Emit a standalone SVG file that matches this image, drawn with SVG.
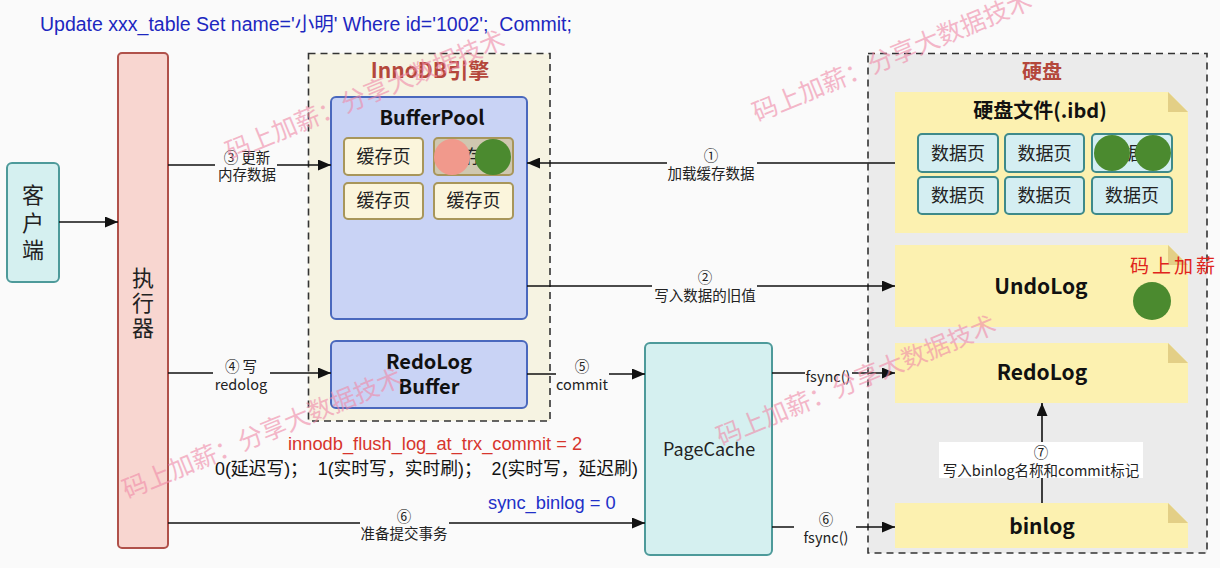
<svg xmlns="http://www.w3.org/2000/svg" width="1220" height="568" viewBox="0 0 1220 568">
<defs>
<style>
.t{font-family:"Noto Sans CJK SC","Noto Sans",sans-serif;}
.a{font-family:"Liberation Sans","Noto Sans CJK SC",sans-serif;white-space:pre;}
.lbl{font-family:"Noto Sans CJK SC","Noto Sans",sans-serif;font-size:14.5px;fill:#222;text-anchor:middle;}
.ln{stroke:#111;stroke-width:1.6;fill:none;}
.bg{fill:#fafafa;}
.cache{fill:#fbf5dc;stroke:#a8965a;stroke-width:2;}
.dp{fill:#d4eef2;stroke:#3e8a8a;stroke-width:2;}
.note{fill:#fcf1b0;}
.fold{fill:#e3cf86;}
.blue{fill:#c9d3f5;stroke:#4a68bd;stroke-width:2;}
.cyan{fill:#d5f0f0;stroke:#4d9a9a;stroke-width:2;}
.dash{stroke:#333;stroke-width:1.6;stroke-dasharray:7 5;}
.h{font-family:"Noto Sans CJK SC","Noto Sans",sans-serif;font-weight:bold;text-anchor:middle;fill:#111;}
.c{text-anchor:middle;}
.green{fill:#4b8a2f;}
.wm{font-family:"Noto Sans CJK SC",sans-serif;font-size:25px;fill:#f08aa8;opacity:.6;}
</style>
<marker id="ar" markerUnits="userSpaceOnUse" markerWidth="14" markerHeight="11" refX="13" refY="5.5" orient="auto"><path d="M0,0 L13,5.5 L0,11 z" fill="#111"/></marker>
</defs>
<rect x="0" y="0" width="1220" height="568" fill="#fafafa"/>
<text class="a" x="40" y="31" font-size="19.5" fill="#1d27c0" xml:space="preserve">Update xxx_table Set name='小明' Where id='1002';  Commit;</text>

<g id="client">
<rect class="cyan" x="7" y="163" width="52" height="119" rx="5"/>
<text class="t c" x="33" y="203" font-size="22" fill="#222">客</text>
<text class="t c" x="33" y="231" font-size="22" fill="#222">户</text>
<text class="t c" x="33" y="258" font-size="22" fill="#222">端</text>
</g>

<g id="executor">
<rect x="118" y="53" width="50" height="495" rx="4" fill="#f8d6d0" stroke="#b0514a" stroke-width="2"/>
<text class="t c" x="143" y="286" font-size="22" fill="#222">执</text>
<text class="t c" x="143" y="311" font-size="22" fill="#222">行</text>
<text class="t c" x="143" y="336" font-size="22" fill="#222">器</text>
</g>

<g id="innodb">
<rect class="dash" x="308.5" y="53.5" width="241.5" height="367.5" fill="#f6f3e2"/>
<text class="h" x="430" y="78" font-size="21" style="fill:#b4473b">InnoDB引擎</text>
</g>

<g id="bufferpool">
<rect class="blue" x="331" y="97" width="196" height="222" rx="5"/>
<text class="h" x="432" y="125" font-size="20">BufferPool</text>
<rect class="cache" x="344" y="138" width="79" height="37" rx="4"/>
<text class="t c" x="383.5" y="163" font-size="18" fill="#222">缓存页</text>
<rect class="cache" x="434" y="138" width="79" height="37" rx="4" style="fill:#cfc7b0"/>
<text class="t c" x="473.5" y="163" font-size="18" fill="#222">缓存页</text>
<circle cx="452" cy="157" r="18" fill="#f1998c"/>
<circle class="green" cx="493" cy="157" r="18"/>
<rect class="cache" x="344" y="183" width="79" height="36" rx="4"/>
<text class="t c" x="383.5" y="207" font-size="18" fill="#222">缓存页</text>
<rect class="cache" x="434" y="183" width="79" height="36" rx="4"/>
<text class="t c" x="473.5" y="207" font-size="18" fill="#222">缓存页</text>
</g>

<g id="redologbuffer">
<rect class="blue" x="331" y="341" width="196" height="67" rx="5"/>
<text class="h" x="429" y="369" font-size="20">RedoLog</text>
<text class="h" x="429" y="394" font-size="20">Buffer</text>
</g>

<g id="pagecache">
<rect class="cyan" x="645" y="343" width="127" height="212" rx="5"/>
<text class="t c" x="709" y="456" font-size="18" fill="#222">PageCache</text>
</g>

<g id="disk">
<rect class="dash" x="868" y="53.5" width="339" height="499.5" fill="#ebebeb"/>
<text class="h" x="1042" y="79" font-size="20" style="fill:#b4473b">硬盘</text>
</g>

<g id="ibd">
<path class="note" d="M895,92 H1168 L1188,112 V233 H895 Z"/>
<path class="fold" d="M1168,92 V112 H1188 Z"/>
<text class="h" x="1040" y="118" font-size="20">硬盘文件(.ibd)</text>
<rect class="dp" x="918" y="134" width="80" height="38" rx="4"/>
<rect class="dp" x="1005" y="134" width="79" height="38" rx="4"/>
<rect class="dp" x="1092" y="134" width="80" height="38" rx="4"/>
<rect class="dp" x="918" y="177" width="80" height="37" rx="4"/>
<rect class="dp" x="1005" y="177" width="79" height="37" rx="4"/>
<rect class="dp" x="1092" y="177" width="80" height="37" rx="4"/>
<text class="t c" x="958" y="159.5" font-size="18" fill="#222">数据页</text>
<text class="t c" x="1044.5" y="159.5" font-size="18" fill="#222">数据页</text>
<text class="t c" x="1132" y="159.5" font-size="18" fill="#222">数据页</text>
<text class="t c" x="958" y="202" font-size="18" fill="#222">数据页</text>
<text class="t c" x="1044.5" y="202" font-size="18" fill="#222">数据页</text>
<text class="t c" x="1132" y="202" font-size="18" fill="#222">数据页</text>
<circle class="green" cx="1112" cy="153" r="18"/>
<circle class="green" cx="1153" cy="153" r="18"/>
</g>

<g id="undolog">
<path class="note" d="M895,245 H1168 L1188,265 V327 H895 Z"/>
<path class="fold" d="M1168,245 V265 H1188 Z"/>
<text class="h" x="1041" y="294" font-size="21">UndoLog</text>
<circle class="green" cx="1152" cy="301" r="19"/>
<text class="t" x="1130" y="273" font-size="19" fill="#e0241c" letter-spacing="3">码上加薪</text>
</g>

<g id="redolog">
<path class="note" d="M895,343 H1168 L1188,363 V403 H895 Z"/>
<path class="fold" d="M1168,343 V363 H1188 Z"/>
<text class="h" x="1042" y="380" font-size="21">RedoLog</text>
</g>

<g id="binlog">
<path class="note" d="M895,503 H1168 L1188,523 V548 H895 Z"/>
<path class="fold" d="M1168,503 V523 H1188 Z"/>
<text class="h" x="1042" y="534" font-size="21">binlog</text>
</g>

<g id="connectors">
<line class="ln" x1="59" y1="222" x2="118" y2="222" marker-end="url(#ar)"/>
<line class="ln" x1="168" y1="165" x2="331" y2="165" marker-end="url(#ar)"/>
<rect class="bg" x="215" y="149" width="62" height="35"/>
<text class="lbl" x="247" y="163">③ 更新</text>
<text class="lbl" x="247" y="180">内存数据</text>

<line class="ln" x1="895" y1="163" x2="527" y2="163" marker-end="url(#ar)"/>
<rect class="bg" x="667" y="147" width="90" height="35"/>
<text class="lbl" x="711" y="161">①</text>
<text class="lbl" x="711" y="179">加载缓存数据</text>

<line class="ln" x1="527" y1="286" x2="895" y2="286" marker-end="url(#ar)"/>
<rect class="bg" x="652" y="270" width="105" height="35"/>
<text class="lbl" x="705" y="283">②</text>
<text class="lbl" x="705" y="301">写入数据的旧值</text>

<line class="ln" x1="168" y1="373" x2="331" y2="373" marker-end="url(#ar)"/>
<rect class="bg" x="213" y="358" width="57" height="35"/>
<text class="lbl" x="241" y="372">④ 写</text>
<text class="lbl" x="241" y="390">redolog</text>

<line class="ln" x1="527" y1="374" x2="645" y2="374" marker-end="url(#ar)"/>
<rect class="bg" x="556" y="359" width="53" height="33"/>
<text class="lbl" x="582" y="372">⑤</text>
<text class="lbl" x="582" y="390">commit</text>

<line class="ln" x1="772" y1="373" x2="895" y2="373" marker-end="url(#ar)"/>
<rect class="bg" x="805" y="366" width="47" height="16"/>
<text class="lbl" x="828" y="382">fsync()</text>

<line class="ln" x1="168" y1="523" x2="645" y2="523" marker-end="url(#ar)"/>
<rect class="bg" x="360" y="508" width="89" height="34"/>
<text class="lbl" x="404" y="522">⑥</text>
<text class="lbl" x="404" y="539">准备提交事务</text>

<line class="ln" x1="772" y1="527" x2="895" y2="527" marker-end="url(#ar)"/>
<rect class="bg" x="794" y="512" width="62" height="34"/>
<text class="lbl" x="826" y="525">⑥</text>
<text class="lbl" x="826" y="543">fsync()</text>

<line class="ln" x1="1042" y1="503" x2="1042" y2="403" marker-end="url(#ar)"/>
<rect x="939" y="442" width="204" height="36" fill="#ffffff"/>
<text class="lbl" x="1041" y="458">⑦</text>
<text class="lbl" x="1041" y="476">写入binlog名称和commit标记</text>
</g>

<text class="a" x="288" y="450" font-size="18.3" fill="#d7352d">innodb_flush_log_at_trx_commit = 2</text>
<text class="a" x="215" y="475" font-size="17.8" fill="#111" xml:space="preserve">0(延迟写)；  1(实时写，实时刷)；  2(实时写，延迟刷)</text>
<text class="a" x="488" y="509" font-size="18.3" fill="#2130c8">sync_binlog = 0</text>

<text class="wm" x="230" y="161" transform="rotate(-22.5 230 161)">码上加薪：分享大数据技术</text>
<text class="wm" x="757" y="122" transform="rotate(-22.5 757 122)">码上加薪：分享大数据技术</text>
<text class="wm" x="127" y="499" transform="rotate(-22.5 127 499)">码上加薪：分享大数据技术</text>
<text class="wm" x="721" y="446" transform="rotate(-22.5 721 446)">码上加薪：分享大数据技术</text>
</svg>
